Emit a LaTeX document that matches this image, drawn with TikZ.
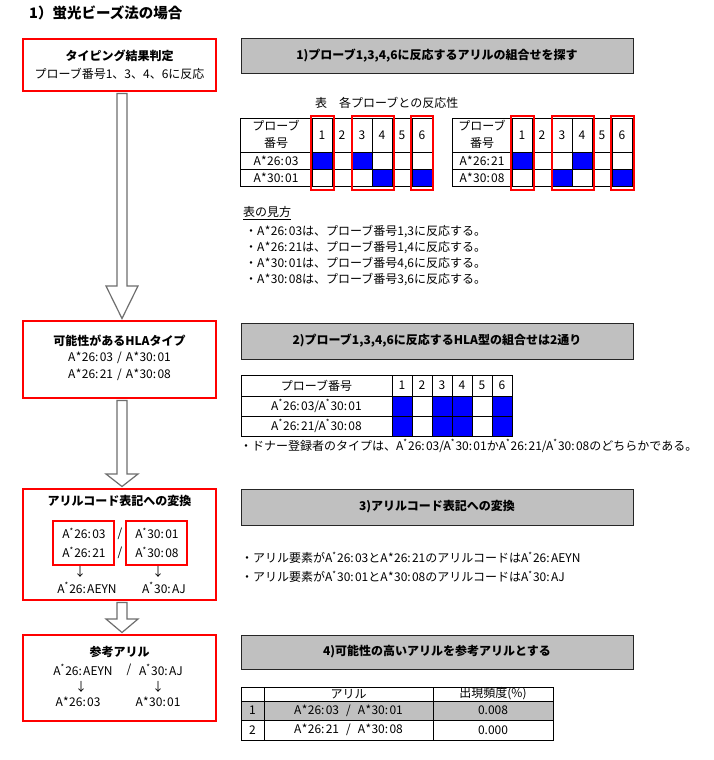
\documentclass[tikz,border=0pt]{standalone}
\usepackage{fontspec}
\setmainfont{Noto Sans CJK JP}
\usetikzlibrary{calc}
\definecolor{hdrgray}{HTML}{C0C0C0}
\definecolor{arrgray}{HTML}{6E6E6E}
\definecolor{pblue}{HTML}{0000FF}
\definecolor{pred}{HTML}{FF0000}
\newcommand{\rsk}{\textsuperscript{*}}
\newcommand{\al}[2]{A\kern0.4pt*\kern0.4pt#1:\kern1.3pt#2}
\newcommand{\als}[2]{A\rsk\kern0.4pt#1:\kern1.3pt#2}
\newcommand{\sep}{\hspace{4pt}/\hspace{4pt}}
\tikzset{
  redbox/.style={draw=pred, line width=2pt, minimum width=193pt, inner sep=0pt},
  redframe/.style={draw=pred, line width=2pt},
  hdr/.style={draw=black!85, fill=hdrgray, line width=0.9pt, minimum width=392pt, minimum height=35pt, inner sep=0pt, font=\bfseries\fontsize{12}{14}\selectfont},
  txt/.style={inner sep=0pt, font=\fontsize{12}{14}\selectfont},
  stxt/.style={inner sep=0pt, font=\fontsize{12}{13}\selectfont},
  btxt/.style={inner sep=0pt, font=\bfseries\fontsize{12}{14}\selectfont},
  tbl/.style={draw=black, line width=0.9pt},
  blockarrow/.style={draw=arrgray, fill=white, line width=1.2pt, line join=miter},
}
\newcommand{\blockarr}[3]{%
  \draw[blockarrow] let \p1=(#1.south), \p2=(#2.north) in
    ({122pt-5pt},{\y1-1.5pt}) -- ({122pt+5pt},{\y1-1.5pt}) -- ({122pt+5pt},{\y2+#3}) --
    ({122pt+16pt},{\y2+#3}) -- (122pt,{\y2+1.5pt}) -- ({122pt-16pt},{\y2+#3}) --
    ({122pt-5pt},{\y2+#3}) -- cycle;}
\begin{document}
\begin{tikzpicture}[x=1pt,y=-1pt]
\useasboundingbox[fill=white] (0,0) rectangle (714,760);

% title
\node[inner sep=0pt, anchor=west, font=\bfseries\fontsize{14.5}{16}\selectfont] (title) at (29,13) {1）蛍光ビーズ法の場合};

% ---------- left column boxes ----------
\node[redbox, minimum height=52pt] (b1) at (119.5,65) {};
\node[btxt] (b1t) at (119.5,56) {タイピング結果判定};
\node[txt] (b1s) at (119.5,74) {プローブ番号1、3、4、6に反応};

\node[redbox, minimum height=77pt] (b2) at (119.5,359.5) {};
\node[btxt] (b2t) at (119.5,341) {可能性があるHLAタイプ};
\node[txt] (b2a) at (119.5,357.5) {\al{26}{03}\sep\al{30}{01}};
\node[txt] (b2b) at (119.5,374.5) {\al{26}{21}\sep\al{30}{08}};

\node[redbox, minimum height=111pt] (b3) at (119.5,544.5) {};
\node[btxt] (b3t) at (119.5,501) {アリルコード表記への変換};
\node[redframe, minimum width=61pt, minimum height=44pt, inner sep=0pt] (b3a) at (83.5,543) {};
\node[redframe, minimum width=61pt, minimum height=44pt, inner sep=0pt] (b3b) at (156.5,543) {};
\node[txt] (b3a1) at (84,533.5) {\als{26}{03}};
\node[txt] (b3a2) at (84,552.5) {\als{26}{21}};
\node[txt] (b3b1) at (157,533.5) {\als{30}{01}};
\node[txt] (b3b2) at (157,552.5) {\als{30}{08}};
\node[txt] (b3s1) at (120,533.5) {/};
\node[txt] (b3s2) at (120,552.5) {/};
\node[txt] (b3d1) at (80,572) {↓};
\node[txt] (b3d2) at (158,572) {↓};
\node[txt] (b3r1) at (87,588) {\als{26}{AEYN}};
\node[txt] (b3r2) at (164,588) {\als{30}{AJ}};

\node[redbox, minimum height=86pt] (b4) at (119.5,678) {};
\node[btxt] (b4t) at (119.5,652) {参考アリル};
\node[txt] (b4a) at (83,670) {\als{26}{AEYN}};
\node[txt] (b4s) at (129,670) {/};
\node[txt] (b4b) at (161,670) {\als{30}{AJ}};
\node[txt] (b4d1) at (81,687) {↓};
\node[txt] (b4d2) at (158,687) {↓};
\node[txt] (b4c) at (78,702) {\al{26}{03}};
\node[txt] (b4e) at (158,702) {\al{30}{01}};

% block arrows
\blockarr{b1}{b2}{34pt}
\blockarr{b2}{b3}{14pt}
\blockarr{b3}{b4}{15pt}

% ---------- step 1 ----------
\node[hdr] (h1) at (437,56) {1)プローブ1,3,4,6に反応するアリルの組合せを探す};
\node[txt, anchor=west] (cap1) at (315,103) {表　各プローブとの反応性};

% table A
\fill[pblue] (312,152) rectangle (332,169) (352,152) rectangle (372,169)
             (372,169) rectangle (392,186) (412,169) rectangle (432,186);
\draw[tbl] (240,118) rectangle (432,186) (240,152) -- (432,152) (240,169) -- (432,169);
\foreach \x in {312,332,...,412} \draw[tbl] (\x,118) -- (\x,186);
\foreach \i/\x in {1/322,2/342,3/362,4/382,5/402,6/422} \node[txt] (ta\i) at (\x,135) {\i};
\node[txt, align=center, font=\fontsize{12}{17}\selectfont] (tal) at (276,134.5) {プローブ\\番号};
\node[txt] (tar1) at (276,160.5) {\al{26}{03}};
\node[txt] (tar2) at (276,177.5) {\al{30}{01}};
\draw[redframe] (311,116) rectangle (334,190) (352,116) rectangle (394,190) (411,116) rectangle (433,190);

% table B
\fill[pblue] (512,152) rectangle (532,169) (572,152) rectangle (592,169)
             (552,169) rectangle (572,186) (612,169) rectangle (632,186);
\draw[tbl] (452,118) rectangle (632,186) (452,152) -- (632,152) (452,169) -- (632,169);
\foreach \x in {512,532,...,612} \draw[tbl] (\x,118) -- (\x,186);
\foreach \i/\x in {1/522,2/542,3/562,4/582,5/602,6/622} \node[txt] (tb\i) at (\x,135) {\i};
\node[txt, align=center, font=\fontsize{12}{17}\selectfont] (tbhl) at (482,134.5) {プローブ\\番号};
\node[txt] (tbr1) at (482,160.5) {\al{26}{21}};
\node[txt] (tbr2) at (482,177.5) {\al{30}{08}};
\draw[redframe] (511,116) rectangle (534,190) (552,116) rectangle (594,190) (611,116) rectangle (634,190);

\node[txt, anchor=west] (how) at (243,213) {\underline{表の見方}};
\node[txt, anchor=west] (n1) at (245,231) {・\al{26}{03}は、プローブ番号1,3に反応する。};
\node[txt, anchor=west] (n2) at (245,247) {・\al{26}{21}は、プローブ番号1,4に反応する。};
\node[txt, anchor=west] (n3) at (245,263) {・\al{30}{01}は、プローブ番号4,6に反応する。};
\node[txt, anchor=west] (n4) at (245,279) {・\al{30}{08}は、プローブ番号3,6に反応する。};

% ---------- step 2 ----------
\node[hdr, minimum height=36pt] (h2) at (437,341) {2)プローブ1,3,4,6に反応するHLA型の組合せは2通り};
\foreach \x in {392,432,452,492} {
  \fill[pblue] (\x,396) rectangle ++(20,20);
  \fill[pblue] (\x,416) rectangle ++(20,20);
}
\draw[tbl] (241,375) rectangle (512,436) (241,396) -- (512,396) (241,416) -- (512,416);
\foreach \x in {392,412,...,492} \draw[tbl] (\x,375) -- (\x,436);
\foreach \i/\x in {1/402,2/422,3/442,4/462,5/482,6/502} \node[txt] (tc\i) at (\x,385.5) {\i};
\node[txt] (tcl) at (316.5,385.5) {プローブ番号};
\node[txt] (tcr1) at (316.5,406) {\als{26}{03}/\als{30}{01}};
\node[txt] (tcr2) at (316.5,426) {\als{26}{21}/\als{30}{08}};
\node[txt, anchor=west] (donor) at (240,446) {・ドナー登録者のタイプは、\als{26}{03}/\als{30}{01}か\als{26}{21}/\als{30}{08}のどちらかである。};

% ---------- step 3 ----------
\node[hdr, minimum height=36pt] (h3) at (437,507) {3)アリルコード表記への変換};
\node[txt, anchor=west] (c1) at (241,558) {・アリル要素が\als{26}{03}と\al{26}{21}のアリルコードは\als{26}{AEYN}};
\node[txt, anchor=west] (c2) at (241,577) {・アリル要素が\als{30}{01}と\al{30}{08}のアリルコードは\als{30}{AJ}};

% ---------- step 4 ----------
\node[hdr, minimum height=34pt] (h4) at (437,652) {4)可能性の高いアリルを参考アリルとする};
\fill[hdrgray] (241,701) rectangle (553,720.5);
\draw[tbl] (241,687) rectangle (553,740) (241,701) -- (553,701) (241,720.5) -- (553,720.5)
           (264,687) -- (264,740) (433,687) -- (433,740);
\node[stxt] (td1) at (348.5,694) {アリル};
\node[stxt] (td2) at (493,694) {出現頻度(\%)};
\node[stxt] (td3) at (252.5,710.7) {1};
\node[stxt] (td4) at (348.5,710.7) {\al{26}{03}\hspace{7pt}/\hspace{7pt}\al{30}{01}};
\node[stxt] (td5) at (493,710.7) {0.008};
\node[stxt] (td6) at (252.5,730.2) {2};
\node[stxt] (td7) at (348.5,730.2) {\al{26}{21}\hspace{7pt}/\hspace{7pt}\al{30}{08}};
\node[stxt] (td8) at (493,730.2) {0.000};
\end{tikzpicture}
\end{document}
